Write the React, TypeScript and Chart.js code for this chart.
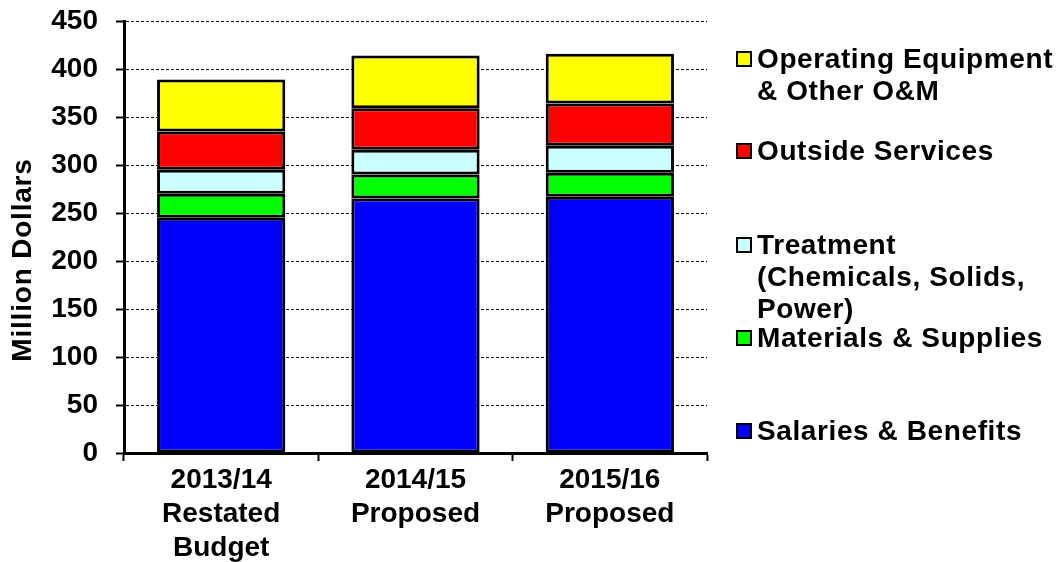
import { useEffect, useRef } from 'react';
import { Chart, registerables } from 'chart.js';

Chart.register(...registerables);

const categories: string[][] = [
  ['2013/14', 'Restated', 'Budget'],
  ['2014/15', 'Proposed'],
  ['2015/16', 'Proposed'],
];
const salaries = [245, 265, 267];
const materials = [25, 25, 25];
const treatment = [25, 26, 28];
const outside = [40, 43, 44];
const operating = [54, 55, 52];

const seriesNames = [
  'Salaries & Benefits',
  'Materials & Supplies',
  'Treatment (Chemicals, Solids, Power)',
  'Outside Services',
  'Operating Equipment & Other O&M',
];
const seriesColors = ['#0000FF', '#00FF00', '#CCFFFF', '#FF0000', '#FFFF00'];

const legendLabels: string[][] = [
  ['Operating Equipment', '& Other O&M'],
  ['Outside Services'],
  ['Treatment', '(Chemicals, Solids,', 'Power)'],
  ['Materials & Supplies'],
  ['Salaries & Benefits'],
];
const legendColors = ['#FFFF00', '#FF0000', '#CCFFFF', '#00FF00', '#0000FF'];

const yMin = 0;
const yMax = 450;
const yStep = 50;
const yTitle = 'Million Dollars';

const FONT = '"Liberation Sans", Arial, sans-serif';

export default function App() {
  const ref = useRef<HTMLCanvasElement | null>(null);

  useEffect(() => {
    if (!ref.current) return;
    const legendY = [59, 151, 245, 338, 431];
    const lineGap = 32;

    const customPlugin = {
      id: 'customDecor',
      afterDraw(chart: any) {
        const ctx = chart.ctx as CanvasRenderingContext2D;
        ctx.save();
        // y title
        ctx.save();
        ctx.translate(23, 260);
        ctx.rotate(-Math.PI / 2);
        ctx.font = `bold 28px ${FONT}`;
        (ctx as any).letterSpacing = '0.8px';
        ctx.fillStyle = '#000';
        ctx.textAlign = 'center';
        ctx.textBaseline = 'middle';
        ctx.fillText(yTitle, 0, 0);
        ctx.restore();

        // legend
        ctx.font = `bold 28px ${FONT}`;
        (ctx as any).letterSpacing = '0.6px';
        ctx.textAlign = 'left';
        ctx.textBaseline = 'middle';
        legendLabels.forEach((lines, i) => {
          const cy = legendY[i];
          ctx.fillStyle = legendColors[i];
          ctx.fillRect(737, cy - 7, 14, 14);
          ctx.lineWidth = 2;
          ctx.strokeStyle = '#000';
          ctx.strokeRect(737, cy - 7, 14, 14);
          ctx.fillStyle = '#000';
          lines.forEach((ln, j) => {
            ctx.fillText(ln, 757, cy + 1 + j * lineGap);
          });
        });
        ctx.restore();
      },
    };

    const data = [salaries, materials, treatment, outside, operating];
    const chart = new Chart(ref.current, {
      type: 'bar',
      data: {
        labels: categories,
        datasets: data.map((d, i) => ({
          label: seriesNames[i],
          data: d,
          backgroundColor: seriesColors[i],
          borderColor: '#000',
          borderWidth: 3,
          borderSkipped: false,
          inflateAmount: 0,
          barPercentage: 0.66,
          categoryPercentage: 1,
        })),
      },
      options: {
        responsive: false,
        animation: false,
        layout: { padding: { left: 0, right: 355, top: 21, bottom: 0 } },
        plugins: {
          legend: { display: false },
          tooltip: { enabled: false },
          title: { display: false },
        },
        scales: {
          x: {
            stacked: true,
            afterFit(scale: any) {
              scale.height = 109;
              scale.paddingLeft = 0;
              scale.paddingRight = 0;
            },
            grid: {
              display: true,
              drawOnChartArea: false,
              drawTicks: true,
              offset: true,
              tickLength: 8,
              tickWidth: 2,
              tickColor: '#000',
            },
            border: { display: true, color: '#000', width: 3 },
            ticks: {
              color: '#000',
              padding: 2,
              maxRotation: 0,
              autoSkip: false,
              font: { family: FONT, size: 28, weight: 'bold', lineHeight: 1.22 },
            },
          },
          y: {
            stacked: true,
            min: yMin,
            max: yMax,
            afterFit(scale: any) {
              scale.width = 124;
              scale.paddingTop = 0;
              scale.paddingBottom = 0;
            },
            grid: {
              color: '#000',
              lineWidth: 1,
              tickLength: 8,
              tickWidth: 2,
              tickColor: '#000',
              tickBorderDash: [],
            },
            border: { display: true, color: '#000', width: 3, dash: [3, 2] },
            ticks: {
              stepSize: yStep,
              color: '#000',
              padding: 18,
              font: { family: FONT, size: 28, weight: 'bold' },
            },
          },
        },
      },
      plugins: [customPlugin],
    } as any);
    return () => chart.destroy();
  }, []);

  return (
    <div style={{ position: 'absolute', left: 0, top: 0, width: 1062, height: 562, background: '#fff' }}>
      <canvas ref={ref} width={1062} height={562} style={{ width: 1062, height: 562, display: 'block' }} />
    </div>
  );
}
